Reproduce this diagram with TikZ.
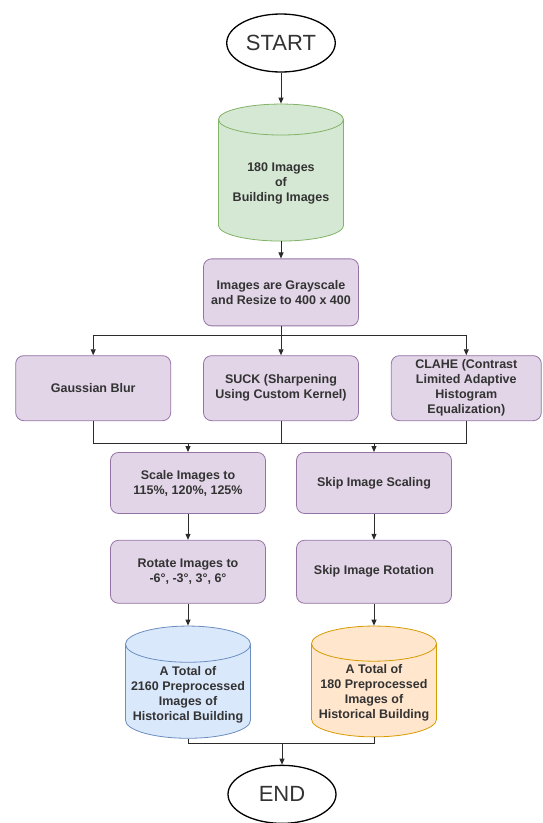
\documentclass[tikz,border=0pt]{standalone}
\usepackage{fontspec}
\setmainfont{Liberation Sans}
\usetikzlibrary{positioning,shapes.geometric,arrows.meta}
\definecolor{FlowText}{HTML}{333333}
\definecolor{FlowLine}{HTML}{2B2B2B}
\definecolor{FlowPurple}{HTML}{9673A6}
\definecolor{FlowGreen}{HTML}{82B366}
\definecolor{FlowBlue}{HTML}{6C8EBF}
\definecolor{FlowOrange}{HTML}{D79B00}
\definecolor{FlowLightPurple}{HTML}{E1D5E7}
\definecolor{FlowLightGreen}{HTML}{D5E8D4}
\definecolor{FlowLightBlue}{HTML}{DAE8FC}
\definecolor{FlowLightOrange}{HTML}{FFE6CC}

\begin{document}
\begin{tikzpicture}[x=1pt, y=-1pt, node distance=20pt,
  every node/.style={font=\fontsize{12.5}{15}\selectfont\bfseries, align=center, text=FlowText},
  box/.style={draw=FlowPurple, fill=FlowLightPurple, rounded corners=8pt, line width=0.8pt, minimum width=155pt},
  store/.style={cylinder, shape border rotate=90, aspect=0.3, draw=#1, line width=0.8pt, minimum width=125pt},
  terminal/.style={ellipse, draw=black, fill=white, line width=1.3pt, minimum width=108pt, minimum height=58pt, font=\fontsize{22}{24}\selectfont},
  arr/.style={-{Triangle[length=6pt, width=5pt]}, line width=0.9pt, FlowLine},
  link/.style={line width=0.9pt, FlowLine}]
  \path[use as bounding box] (0,0) rectangle (543,823);
  \node[terminal] (start) at (281,43) {START};
  \node[store=FlowGreen, fill=FlowLightGreen, minimum height=137pt, below=31pt of start] (db1) {180 Images\\of\\Building Images};
  \node[box, minimum height=67pt, below=17pt of db1] (gray) {Images are Grayscale\\and Resize to 400 x 400};
  \node[box, minimum height=65pt, below=29pt of gray] (suck) {SUCK (Sharpening\\Using Custom Kernel)};
  \node[box, minimum height=65pt, left=32pt of suck] (gauss) {Gaussian Blur};
  \node[box, minimum height=65pt, minimum width=150pt, right=32pt of suck, inner ysep=0pt] (clahe) {CLAHE (Contrast\\Limited Adaptive\\Histogram\\Equalization)};
  \node[box, minimum height=61pt, below=31pt of suck, xshift=-93pt] (scale) {Scale Images to\\115\%, 120\%, 125\%};
  \node[box, minimum height=61pt, below=31pt of suck, xshift=93pt] (skips) {Skip Image Scaling};
  \node[box, minimum height=63pt, below=26pt of scale] (rotate) {Rotate Images to\\-6°, -3°, 3°, 6°};
  \node[box, minimum height=63pt, below=26pt of skips] (skipr) {Skip Image Rotation};
  \node[store=FlowBlue, fill=FlowLightBlue, minimum height=110pt, below=22pt of rotate] (db2) {A Total of\\2160 Preprocessed\\Images of\\Historical Building};
  \node[store=FlowOrange, fill=FlowLightOrange, minimum height=110pt, below=22pt of skipr] (db3) {A Total of\\180 Preprocessed\\Images of\\Historical Building};
  \node[terminal, below=26pt of db2, xshift=94pt] (end) {END};
  \coordinate (split) at (280,335);
  \coordinate (merge) at (280,443);
  \coordinate (join) at (280,743);
  % top part
  \draw[arr] (start) -- (db1);
  \draw[arr] (db1) -- (gray);
  \draw[arr] (gray) -- (suck);
  \draw[arr] (split) -| (gauss.north);
  \draw[arr] (split) -| (clahe.north);
  % merge of the three filters
  \draw[link] (gauss.south) |- (clahe.south |- merge) -- (clahe.south);
  \draw[link] (suck.south) -- (suck.south |- merge);
  \draw[arr] (scale.north |- merge) -- (scale);
  \draw[arr] (skips.north |- merge) -- (skips);
  % two branches
  \draw[arr] (scale) -- (rotate);
  \draw[arr] (skips) -- (skipr);
  \draw[arr] (rotate) -- (db2);
  \draw[arr] (skipr) -- (db3);
  \draw[link] (db2.south) |- (join) -| (db3.south);
  \draw[arr] (end.north |- join) -- (end);
\end{tikzpicture}
\end{document}
